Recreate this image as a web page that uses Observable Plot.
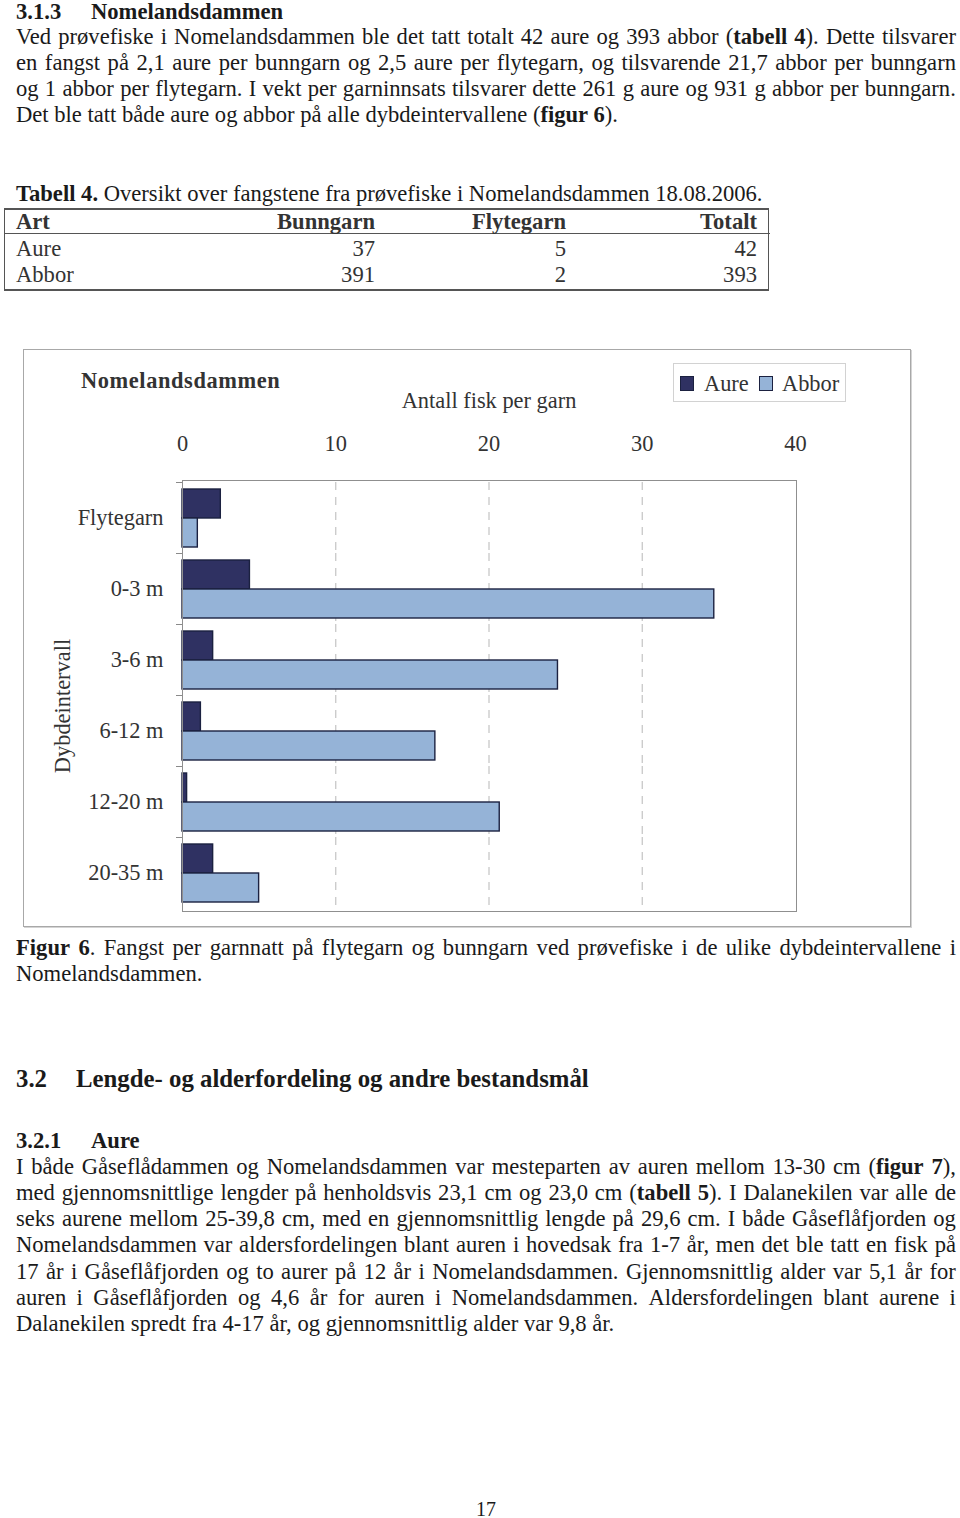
<!DOCTYPE html>
<html>
<head>
<meta charset="utf-8">
<script src="https://cdn.jsdelivr.net/npm/d3@7"></script>
<script src="https://cdn.jsdelivr.net/npm/@observablehq/plot@0.6"></script>
<style>
  html, body { margin: 0; padding: 0; background: #fff; }
  body { width: 960px; height: 1518px; position: relative; overflow: hidden; font-family: "Liberation Serif", serif; color: #1a1a1a; }
  .ln { position: absolute; white-space: nowrap; line-height: 1; }
  .jl { position: absolute; display: flex; justify-content: space-between; white-space: nowrap; line-height: 1; }
  b { font-weight: bold; }
</style>
</head>
<body>
<div id="page"></div>
<script>
// ---------------- DATA ----------------
const categories = ["Flytegarn", "0-3 m", "3-6 m", "6-12 m", "12-20 m", "20-35 m"];
const series = ["Aure", "Abbor"];
const aure  = [2.5, 4.4, 2.0, 1.2, 0.3, 2.0];
const abbor = [1.0, 34.7, 24.5, 16.5, 20.7, 5.0];
const xTicks = [0, 10, 20, 30, 40];
const gridTicks = [10, 20, 30];
const chartTitle = "Nomelandsdammen";
const xLabel = "Antall fisk per garn";
const yLabel = "Dybdeintervall";

const tableHeader = ["Art", "Bunngarn", "Flytegarn", "Totalt"];
const tableArt = ["Aure", "Abbor"];
const tableBunngarn = [37, 391];
const tableFlytegarn = [5, 2];
const tableTotalt = [42, 393];

// ---------------- STYLE / LAYOUT ----------------
const F = 22.6;           // body font size
const CF = 22.4;          // chart font size
const dark = "#2f3162", light = "#95b3d7";
const page = document.getElementById("page");

function put(html, x, baseline, opts = {}) {
  const size = opts.size || F;
  const lh = opts.lh || 1;
  const d = document.createElement("div");
  d.className = "ln";
  d.style.fontSize = size + "px";
  d.style.lineHeight = lh;
  d.style.top = (baseline - ((lh - 1.107) / 2 + 0.891) * size) + "px";
  if (opts.right != null) { d.style.right = (960 - opts.right) + "px"; d.style.textAlign = "right"; }
  else if (opts.center != null) { d.style.left = (opts.center - 200) + "px"; d.style.width = "400px"; d.style.textAlign = "center"; }
  else d.style.left = x + "px";
  if (opts.color) d.style.color = opts.color;
  if (opts.bold) d.style.fontWeight = "bold";
  if (opts.ls) d.style.letterSpacing = opts.ls + "px";
  d.innerHTML = html;
  page.appendChild(d);
  return d;
}
function just(html, baseline, x0 = 16, x1 = 956) {
  const d = document.createElement("div");
  d.className = "jl";
  d.style.fontSize = F + "px";
  d.style.left = x0 + "px";
  d.style.width = (x1 - x0) + "px";
  d.style.top = (baseline - 0.8375 * F) + "px";
  html.split(" ").forEach(w => { const s = document.createElement("span"); s.innerHTML = w; d.appendChild(s); });
  page.appendChild(d);
}

// ---------------- TEXT ----------------
put("<b>3.1.3</b>", 16, 19.5);
put("<b>Nomelandsdammen</b>", 91, 19.5);
const LS = 26.3;
just("Ved prøvefiske i Nomelandsdammen ble det tatt totalt 42 aure og 393 abbor (<b>tabell</b> <b>4</b>). Dette tilsvarer", 44.5);
just("en fangst på 2,1 aure per bunngarn og 2,5 aure per flytegarn, og tilsvarende 21,7 abbor per bunngarn", 44.5 + LS);
just("og 1 abbor per flytegarn. I vekt per garninnsats tilsvarer dette 261 g aure og 931 g abbor per bunngarn.", 44.5 + 2 * LS);
put("Det ble tatt både aure og abbor på alle dybdeintervallene (<b>figur 6</b>).", 16, 44.5 + 3 * LS);

put("<b>Tabell 4.</b> Oversikt over fangstene fra prøvefiske i Nomelandsdammen 18.08.2006.", 16, 202);

// table
const tbl = document.createElement("div");
Object.assign(tbl.style, {position: "absolute", left: "4px", top: "208px", width: "763px", height: "79px",
  border: "2px solid #555", borderLeftWidth: "1.5px", borderRightWidth: "1.5px"});
page.appendChild(tbl);
const hl = document.createElement("div");
Object.assign(hl.style, {position: "absolute", left: "4px", top: "233px", width: "766px", height: "0", borderTop: "1.5px solid #555"});
page.appendChild(hl);
const colRight = [null, 375, 566, 757];
tableHeader.forEach((h, i) => {
  if (i === 0) put("<b>" + h + "</b>", 16, 229.5, {color: "#333"});
  else put("<b>" + h + "</b>", 0, 229.5, {right: colRight[i], color: "#333"});
});
tableArt.forEach((a, r) => {
  const bl = 256.5 + r * 26;
  put(a, 16, bl, {color: "#333"});
  put(String(tableBunngarn[r]), 0, bl, {right: colRight[1], color: "#333"});
  put(String(tableFlytegarn[r]), 0, bl, {right: colRight[2], color: "#333"});
  put(String(tableTotalt[r]), 0, bl, {right: colRight[3], color: "#333"});
});

// ---------------- CHART ----------------
const frameBox = document.createElement("div");
Object.assign(frameBox.style, {position: "absolute", left: "23px", top: "349px", width: "886px", height: "576px",
  border: "1px solid #a8a8a8", boxShadow: "1px 1px 0 #d4d4d4"});
page.appendChild(frameBox);

const svgTop = 349, svgH = 580;
const plotL = 182, plotR = 795, plotT = 480, plotB = 910;
const plotW = plotR - plotL;

const data = categories.flatMap((c, i) => [
  {cat: c, series: series[0], value: aure[i]},
  {cat: c, series: series[1], value: abbor[i]}
]);

const chart = Plot.plot({
  width: 960,
  height: svgH,
  marginTop: plotT - svgTop,
  marginBottom: svgTop + svgH - plotB,
  marginLeft: plotL,
  marginRight: 960 - plotR,
  style: {fontFamily: "Liberation Serif", fontSize: CF + "px", color: "#333", background: "transparent", overflow: "visible"},
  x: {domain: [0, 40], ticks: xTicks, axis: "top", tickSize: 0, tickPadding: 32, label: xLabel, labelArrow: false, labelAnchor: "center", labelOffset: 90},
  y: {domain: series, axis: null, paddingInner: 0, paddingOuter: 0.22},
  fy: {domain: categories, padding: 0, axis: "left", tickSize: 0, tickPadding: 19, label: null},
  color: {domain: series, range: [dark, light]},
  marks: [
    Plot.ruleX(gridTicks, {stroke: "#c4c4c4", strokeDasharray: "8,7", strokeWidth: 1.2}),
    Plot.frame({anchor: "top", insetLeft: -6, insetRight: plotW, stroke: "#8a8a8a"}),
    Plot.barX(data, {fy: "cat", y: "series", x: "value", fill: "series", stroke: "#1b2140", strokeWidth: 1.4})
  ]
});
chart.style.position = "absolute";
chart.style.left = "0px";
chart.style.top = svgTop + "px";
page.appendChild(chart);

const pbox = document.createElement("div");
Object.assign(pbox.style, {position: "absolute", left: (plotL - 0.5) + "px", top: (plotT - 0.5) + "px",
  width: plotW + "px", height: (plotB - plotT) + "px", border: "1px solid #8f8f8f", pointerEvents: "none"});
page.appendChild(pbox);

// y axis title (rotated)
const yl = document.createElement("div");
Object.assign(yl.style, {position: "absolute", left: (63 - 100) + "px", top: (706 - 12) + "px", width: "200px", height: "24px",
  lineHeight: "24px", textAlign: "center", fontSize: CF + "px", color: "#333", transform: "rotate(-90deg)", whiteSpace: "nowrap"});
yl.textContent = yLabel;
page.appendChild(yl);

// chart title
put(chartTitle, 81, 388.5, {size: CF, bold: true, color: "#333", ls: 0.6});

// legend
const leg = document.createElement("div");
Object.assign(leg.style, {position: "absolute", left: "673px", top: "363px", width: "171px", height: "37px",
  border: "1px solid #d2d2d2", fontSize: CF + "px", color: "#333"});
page.appendChild(leg);
const legItems = [{name: series[0], color: dark, sx: 680, tx: 704}, {name: series[1], color: light, sx: 759, tx: 782}];
legItems.forEach(it => {
  const sw = document.createElement("div");
  Object.assign(sw.style, {position: "absolute", left: it.sx + "px", top: "376px", width: "12px", height: "13px",
    background: it.color, border: "1px solid #1b2140"});
  page.appendChild(sw);
  put(it.name, it.tx, 391.5, {size: CF, color: "#333"});
});

// ---------------- BELOW ----------------
just("<b>Figur</b> <b>6</b>. Fangst per garnnatt på flytegarn og bunngarn ved prøvefiske i de ulike dybdeintervallene i", 955.5);
put("Nomelandsdammen.", 16, 981.8);

put("<b>3.2</b>", 16, 1088, {size: 24.8});
put("<b>Lengde- og alderfordeling og andre bestandsmål</b>", 76, 1088, {size: 24.8});

put("<b>3.2.1</b>", 16, 1148.5);
put("<b>Aure</b>", 91, 1148.5);

const p2 = [
  "I både Gåseflådammen og Nomelandsdammen var mesteparten av auren mellom 13-30 cm (<b>figur</b> <b>7</b>),",
  "med gjennomsnittlige lengder på henholdsvis 23,1 cm og 23,0 cm (<b>tabell</b> <b>5</b>). I Dalanekilen var alle de",
  "seks aurene mellom 25-39,8 cm, med en gjennomsnittlig lengde på 29,6 cm. I både Gåseflåfjorden og",
  "Nomelandsdammen var aldersfordelingen blant auren i hovedsak fra 1-7 år, men det ble tatt en fisk på",
  "17 år i Gåseflåfjorden og to aurer på 12 år i Nomelandsdammen. Gjennomsnittlig alder var 5,1 år for",
  "auren i Gåseflåfjorden og 4,6 år for auren i Nomelandsdammen. Aldersfordelingen blant aurene i"
];
p2.forEach((l, i) => just(l, 1174.5 + i * LS));
put("Dalanekilen spredt fra 4-17 år, og gjennomsnittlig alder var 9,8 år.", 16, 1174.5 + 6 * LS);

put("17", 0, 1516, {center: 486, size: 20, lh: 0.8});
</script>
</body>
</html>
